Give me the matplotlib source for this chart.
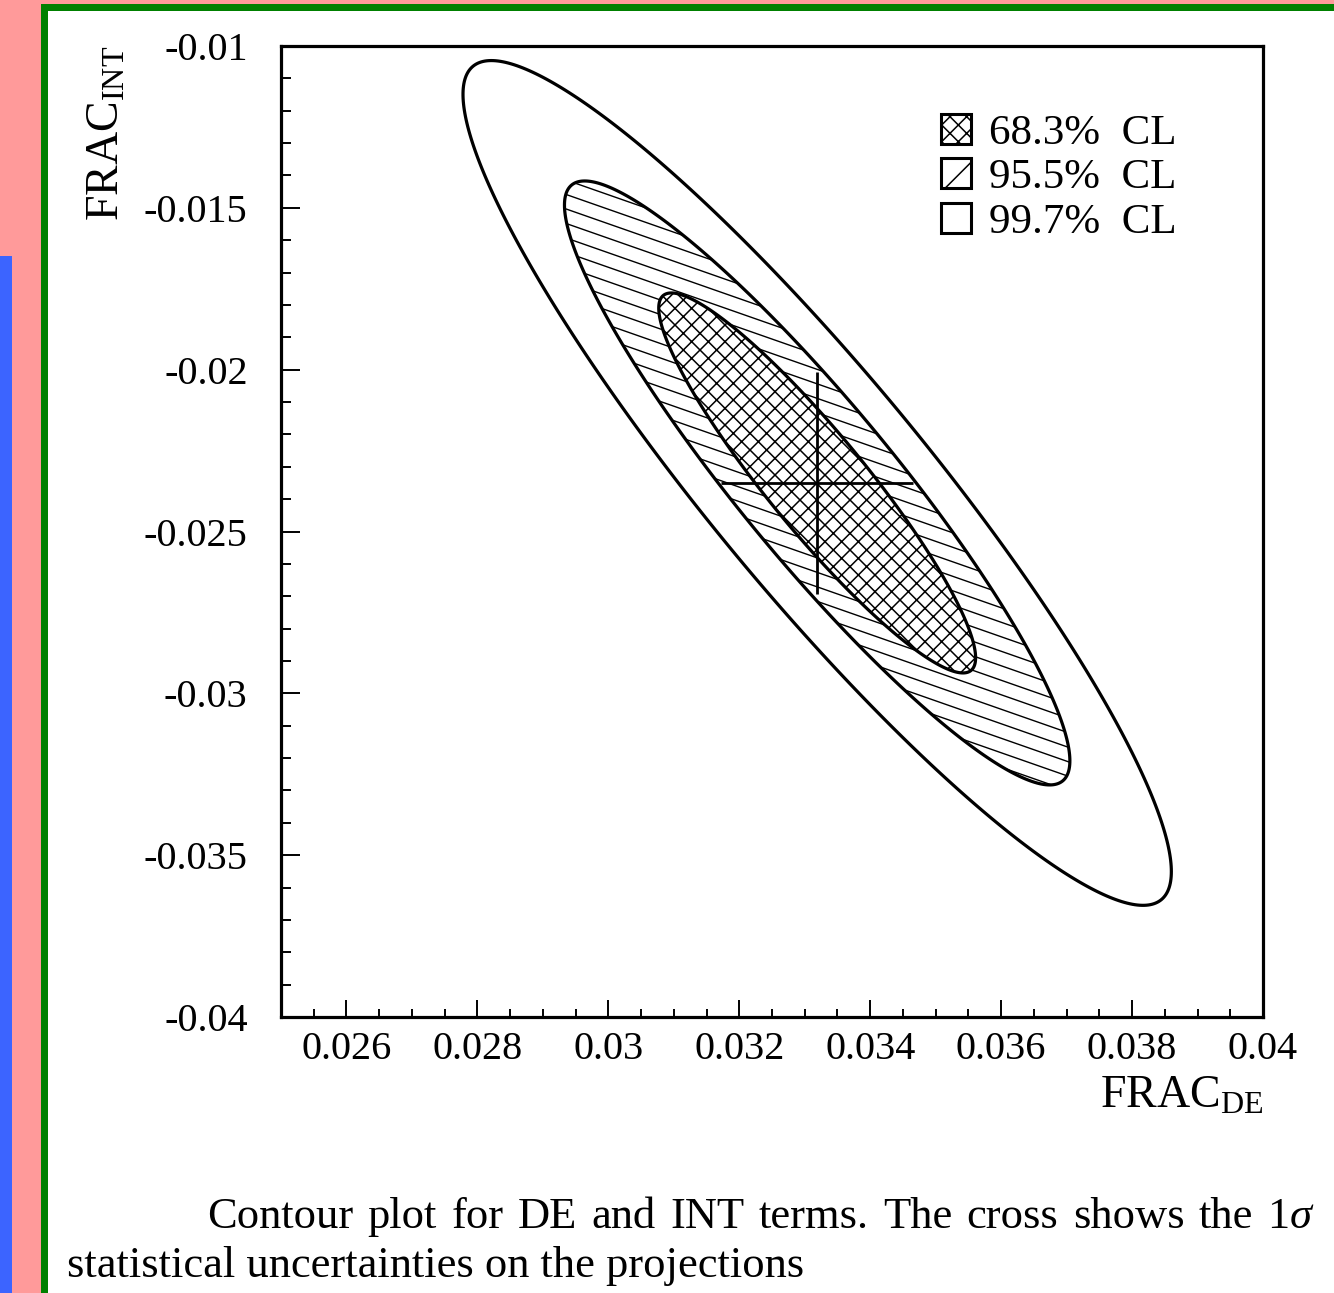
import numpy as np
import matplotlib
matplotlib.use("Agg")
import matplotlib.pyplot as plt
from matplotlib.patches import Polygon, Rectangle, Patch
from matplotlib.collections import LineCollection

# ---------------- data ----------------
center_de = 0.03319          # FRAC_DE best fit
center_int = -0.0235         # FRAC_INT best fit
err_de = 0.00147             # 1 sigma projection (cross)
err_int = 0.00344
correlation = -0.92
cl_labels = ["68.3%  CL", "95.5%  CL", "99.7%  CL"]
half_de = [0.00242, 0.00386, 0.00541]     # half extents of each contour in x
half_int = [0.00587, 0.00933, 0.01305]    # half extents of each contour in y

xlim = (0.025, 0.04)
ylim = (-0.04, -0.01)
xticks = [0.026, 0.028, 0.030, 0.032, 0.034, 0.036, 0.038, 0.040]
xticklabels = ["0.026", "0.028", "0.03", "0.032", "0.034", "0.036", "0.038", "0.04"]
yticks = [-0.04, -0.035, -0.03, -0.025, -0.02, -0.015, -0.01]
yticklabels = ["-0.04", "-0.035", "-0.03", "-0.025", "-0.02", "-0.015", "-0.01"]
x_minor_step = 0.0005
y_minor_step = 0.001

caption_line1 = ["Contour", "plot", "for", "DE", "and", "INT", "terms.", "The",
                 "cross", "shows", "the", r"1$\sigma$"]
caption_line2 = "statistical uncertainties on the projections"

# ---------------- style ----------------
plt.rcParams["font.family"] = ["Liberation Serif", "DejaVu Serif"]
plt.rcParams["mathtext.fontset"] = "custom"
plt.rcParams["mathtext.rm"] = "Liberation Serif"
plt.rcParams["mathtext.it"] = "Liberation Serif:italic"
plt.rcParams["mathtext.bf"] = "Liberation Serif:bold"
plt.rcParams["hatch.linewidth"] = 1.1
plt.rcParams["axes.unicode_minus"] = False

W, H = 1334, 1293
fig = plt.figure(figsize=(W / 100, H / 100), dpi=100)
fig.patch.set_facecolor("#ff9a9a")

def fx(px):
    return px / W

def fy(py):
    return 1 - py / H

# slide decorations
fig.add_artist(Rectangle((0, 0), fx(12), fy(256), transform=fig.transFigure,
                         facecolor="#3c64ff", edgecolor="none", zorder=0))
fig.add_artist(Rectangle((fx(41), 0), 1 - fx(41), fy(4), transform=fig.transFigure,
                         facecolor="#008000", edgecolor="none", zorder=0))
fig.add_artist(Rectangle((fx(48), 0), 1 - fx(48), fy(11), transform=fig.transFigure,
                         facecolor="white", edgecolor="none", zorder=0))

ax = fig.add_axes([fx(281), fy(1017), fx(1263) - fx(281), fy(46) - fy(1017)])
ax.set_facecolor("white")
ax.set_xlim(*xlim)
ax.set_ylim(*ylim)

# ---------------- contours ----------------
t = np.linspace(0, 2 * np.pi, 400)
s = np.sqrt(1 - correlation ** 2)

def ellipse_pts(hx, hy):
    x = center_de + hx * np.cos(t)
    y = center_int + hy * (correlation * np.cos(t) + s * np.sin(t))
    return np.column_stack([x, y])

lw_c = 2.3
# 99.7%
outer = Polygon(ellipse_pts(half_de[2], half_int[2]), closed=True, fill=False,
                edgecolor="black", linewidth=lw_c, zorder=2)
ax.add_patch(outer)
# 95.5% fill + shallow hatching
mid_pts = ellipse_pts(half_de[1], half_int[1])
mid_fill = Polygon(mid_pts, closed=True, facecolor="white", edgecolor="none", zorder=3)
ax.add_patch(mid_fill)
ax_w_px, ax_h_px = 1263 - 281, 1017 - 46
slope = -0.35 * ax_w_px / ax_h_px
spacing = 14.5 / ax_h_px
segs = []
for c in np.arange(-0.2, 1.6, spacing):
    segs.append([(0, c), (1, c + slope)])
lc = LineCollection(segs, colors="black", linewidths=1.0, transform=ax.transAxes, zorder=3.1)
ax.add_collection(lc)
lc.set_clip_path(mid_fill)
ax.add_patch(Polygon(mid_pts, closed=True, fill=False, edgecolor="black",
                     linewidth=lw_c, zorder=3.2))
# 68.3%
ax.add_patch(Polygon(ellipse_pts(half_de[0], half_int[0]), closed=True, facecolor="white",
                     edgecolor="black", hatch="xx", linewidth=lw_c, zorder=4))

# cross
ax.errorbar([center_de], [center_int], xerr=[err_de], yerr=[err_int], fmt="none",
            ecolor="black", elinewidth=2.0, capsize=0, zorder=5)

# ---------------- axes ----------------
for sp in ax.spines.values():
    sp.set_linewidth(2.3)
ax.set_xticks(xticks)
ax.set_xticklabels(xticklabels)
ax.set_yticks(yticks)
ax.set_yticklabels(yticklabels)
ax.set_xticks(np.arange(xlim[0], xlim[1] + 1e-9, x_minor_step), minor=True)
ax.set_yticks(np.arange(ylim[0], ylim[1] + 1e-9, y_minor_step), minor=True)
ax.tick_params(which="both", direction="in", top=False, right=False, width=1.4)
ax.tick_params(axis="x", which="major", length=12.2, pad=10, labelsize=29)
ax.tick_params(axis="x", which="minor", length=5.8)
ax.tick_params(axis="y", which="major", length=13.5, pad=24, labelsize=29)
ax.tick_params(axis="y", which="minor", length=7.2)

fig.text(fx(1263), fy(1108), r"FRAC$_{\mathrm{DE}}$", ha="right", va="baseline", fontsize=33)
fig.text(fx(107), fy(46), r"FRAC$_{\mathrm{INT}}$", ha="center", va="top", fontsize=33,
         rotation=90)

# ---------------- legend ----------------
handles = [Patch(facecolor="white", edgecolor="black", hatch="xx", linewidth=2.2),
           Patch(facecolor="white", edgecolor="black", hatch="/", linewidth=2.2),
           Patch(facecolor="white", edgecolor="black", linewidth=2.2)]
ax.legend(handles, cl_labels, loc="upper left",
          bbox_to_anchor=((941 - 281) / ax_w_px, 1 - (114 - 46) / ax_h_px),
          frameon=False, fontsize=31, handlelength=0.70, handleheight=0.70,
          handletextpad=0.42, labelspacing=0.12, borderpad=0, borderaxespad=0)

# ---------------- caption ----------------
fig.canvas.draw()
renderer = fig.canvas.get_renderer()
words = [fig.text(0, fy(1228), w, fontsize=32, ha="left", va="baseline") for w in caption_line1]
widths = [w.get_window_extent(renderer).width for w in words]
x0, x1 = 207, 1315
gap = (x1 - x0 - sum(widths)) / (len(words) - 1)
xpos = x0
for w, wd in zip(words, widths):
    w.set_x(fx(xpos))
    xpos += wd + gap
fig.text(fx(67), fy(1277), caption_line2, fontsize=32, ha="left", va="baseline")

fig.savefig("out.png", dpi=100, facecolor=fig.get_facecolor())
